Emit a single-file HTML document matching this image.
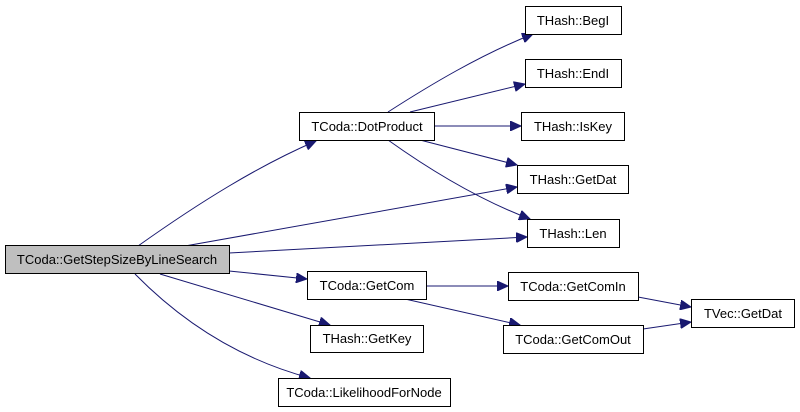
<!DOCTYPE html>
<html><head><meta charset="utf-8"><style>
html,body{margin:0;padding:0;background:#fff;}
svg{display:block;}
text{font-family:"Liberation Sans",sans-serif;font-size:13px;fill:#000;text-anchor:middle;}
rect{fill:#fff;stroke:#000;stroke-width:1;}
path{fill:none;stroke:#191970;stroke-width:1;}
</style></head><body>
<svg width="800" height="412" viewBox="0 0 800 412" xmlns="http://www.w3.org/2000/svg">
<defs><marker id="a" markerWidth="12" markerHeight="10" refX="11" refY="5" orient="auto" markerUnits="userSpaceOnUse">
<path d="M0,0 L11,5 L0,10 Z" style="fill:#191970;stroke:#191970"/></marker></defs>
<g marker-end="url(#a)">
<path d="M138,246 C200,202 258,166 316,141"/>
<path d="M185,246 L517,187"/>
<path d="M229,253 L527,237"/>
<path d="M229,271 L307,279"/>
<path d="M160,274 L330,325"/>
<path d="M135,274 C190,330 250,362 310,378"/>
<path d="M388,112 C430,85 480,55 533,34"/>
<path d="M410,112 L525,84"/>
<path d="M434,126 L521,126"/>
<path d="M420,140 L517,165"/>
<path d="M388,140 C430,170 480,200 530,219"/>
<path d="M426,286 L508,286"/>
<path d="M405,299 L520,325"/>
<path d="M638,297 L691,307"/>
<path d="M643,329 L691,322"/>
</g>
<rect x="5.5" y="245.5" width="224" height="28" style="fill:#bfbfbf"/><text x="117" y="264">TCoda::GetStepSizeByLineSearch</text>
<rect x="299.5" y="112.5" width="135" height="28"/><text x="367" y="131">TCoda::DotProduct</text>
<rect x="307.5" y="271.5" width="119" height="28"/><text x="367" y="290">TCoda::GetCom</text>
<rect x="310.5" y="325.5" width="113" height="27"/><text x="367" y="343">THash::GetKey</text>
<rect x="278.5" y="378.5" width="172" height="28"/><text x="364" y="397">TCoda::LikelihoodForNode</text>
<rect x="525.5" y="6.5" width="96" height="28"/><text x="573" y="25">THash::BegI</text>
<rect x="525.5" y="59.5" width="96" height="28"/><text x="573" y="78">THash::EndI</text>
<rect x="521.5" y="112.5" width="103" height="28"/><text x="573" y="131">THash::IsKey</text>
<rect x="517.5" y="165.5" width="111" height="28"/><text x="573" y="184">THash::GetDat</text>
<rect x="527.5" y="219.5" width="92" height="28"/><text x="573" y="238">THash::Len</text>
<rect x="508.5" y="272.5" width="130" height="28"/><text x="573" y="291">TCoda::GetComIn</text>
<rect x="503.5" y="325.5" width="140" height="28"/><text x="573" y="344">TCoda::GetComOut</text>
<rect x="691.5" y="299.5" width="103" height="28"/><text x="743" y="318">TVec::GetDat</text>
</svg>
</body></html>
